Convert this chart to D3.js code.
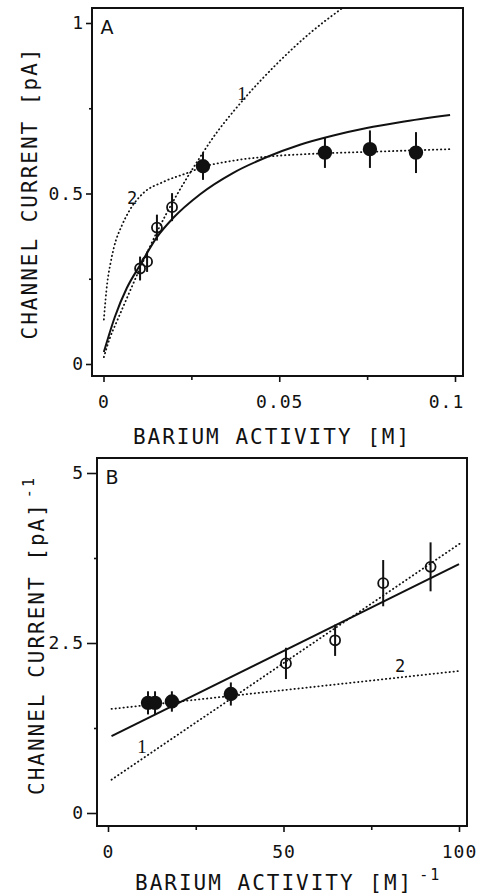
<!DOCTYPE html>
<html>
<head>
<meta charset="utf-8">
<script src="https://cdn.jsdelivr.net/npm/d3@7"></script>
<style>
  body { margin: 0; background: #fff; }
  svg { display: block; }
  .tick text { font-family: "DejaVu Sans Mono", monospace; font-size: 18px; letter-spacing: 1px; fill: #111; }
  .tick line { stroke: #111; stroke-width: 1.6; }
  .title { font-family: "DejaVu Sans Mono", monospace; font-size: 21px; letter-spacing: 2px; fill: #111; }
</style>
</head>
<body>
<div id="chart-area"></div>
<script>
// ---- panel A data: current vs barium activity ----
var aOpenX = [0.0104, 0.0124, 0.0152, 0.0195];
var aOpenY = [0.28, 0.30, 0.40, 0.46];
var aOpenErr = [0.035, 0.03, 0.038, 0.041];
var aFilledX = [0.0283, 0.063, 0.0758, 0.0889];
var aFilledY = [0.58, 0.62, 0.63, 0.62];
var aFilledErr = [0.04, 0.045, 0.055, 0.06];

// curves
var aFitX = [0.0001, 0.0033, 0.0066, 0.0104, 0.0152, 0.0198, 0.0275, 0.0368, 0.0465, 0.0559, 0.0654, 0.0749, 0.0843, 0.0986];
var aFitY = [0.035, 0.14, 0.222, 0.29, 0.372, 0.428, 0.498, 0.56, 0.607, 0.643, 0.67, 0.692, 0.709, 0.73];
var aCurve1X = [0.0001, 0.0018, 0.0038, 0.0056, 0.0104, 0.0152, 0.0203, 0.0237, 0.0275, 0.0303, 0.0397, 0.0493, 0.0587, 0.068];
var aCurve1Y = [0.02, 0.076, 0.125, 0.168, 0.281, 0.387, 0.486, 0.545, 0.607, 0.651, 0.774, 0.88, 0.97, 1.044];
var aCurve2X = [0.0001, 0.001, 0.002, 0.003, 0.0053, 0.0075, 0.0113, 0.017, 0.0246, 0.0275, 0.0368, 0.0465, 0.0607, 0.0749, 0.0986];
var aCurve2Y = [0.13, 0.232, 0.296, 0.343, 0.408, 0.452, 0.501, 0.534, 0.563, 0.575, 0.596, 0.608, 0.617, 0.622, 0.63];

var aXTicks = [0, 0.05, 0.1];
var aXMinor = [0.025, 0.075];
var aYTicks = [0, 0.5, 1];
var aYMinor = [0.25, 0.75];

// ---- panel B data: reciprocal plot ----
var bOpenX = [50.7, 64.7, 78.4, 91.9];
var bOpenY = [2.2, 2.54, 3.38, 3.62];
var bOpenErr = [0.23, 0.23, 0.34, 0.36];
var bFilledX = [11.4, 13.4, 18.2, 35.0];
var bFilledY = [1.62, 1.62, 1.64, 1.75];
var bFilledErr = [0.17, 0.17, 0.15, 0.17];

var bFitX = [1, 100];
var bFitY = [1.13, 3.66];
var bLine1X = [1, 100.5];
var bLine1Y = [0.49, 3.97];
var bLine2X = [1, 100.3];
var bLine2Y = [1.53, 2.09];

var bXTicks = [0, 50, 100];
var bXMinor = [25, 75];
var bYTicks = [0, 2.5, 5];
var bYMinor = [1.25, 3.75];

var svg = d3.select('#chart-area')
    .append("svg")
        .attr("width", 480)
        .attr("height", 894);

function zip(xs, ys) {
    return xs.map((x, i) => ({ x: x, y: ys[i] }));
}

function drawPanel(p) {
    var x = d3.scaleLinear().domain(p.xDomain).range([p.x0, p.x1]);
    var y = d3.scaleLinear().domain(p.yDomain).range([p.y0, p.y1]);
    var g = svg.append("g");

    var clipId = "clip-" + p.letter;
    g.append("clipPath").attr("id", clipId)
        .append("rect")
            .attr("x", p.box.left).attr("y", p.box.top)
            .attr("width", p.box.right - p.box.left)
            .attr("height", p.box.bottom - p.box.top);

    // x axis
    var xAxis = g.append("g")
        .attr("transform", "translate(0," + p.box.bottom + ")")
        .call(d3.axisBottom(x).tickValues(p.xTicks).tickSize(6).tickFormat(p.xFormat));
    xAxis.select(".domain").remove();
    xAxis.selectAll("text")
        .attr("y", 26).attr("dy", "0.35em")
        .attr("dx", (d, i) => i === p.xTicks.length - 1 ? p.lastDx : 0);
    g.append("g")
        .attr("transform", "translate(0," + p.box.bottom + ")")
        .call(d3.axisBottom(x).tickValues(p.xMinor).tickSize(4).tickFormat(""))
        .select(".domain").remove();

    // y axis
    var yAxis = g.append("g")
        .attr("transform", "translate(" + p.box.left + ",0)")
        .call(d3.axisLeft(y).tickValues(p.yTicks).tickSize(p.yTickSize).tickFormat(d => String(d)));
    yAxis.select(".domain").remove();
    yAxis.selectAll("text").attr("x", -(p.box.left - 84));
    g.append("g")
        .attr("transform", "translate(" + p.box.left + ",0)")
        .call(d3.axisLeft(y).tickValues(p.yMinor).tickSize(3).tickFormat(""))
        .select(".domain").remove();

    // frame
    g.append("rect")
        .attr("x", p.box.left).attr("y", p.box.top)
        .attr("width", p.box.right - p.box.left)
        .attr("height", p.box.bottom - p.box.top)
        .attr("fill", "none").attr("stroke", "#111").attr("stroke-width", 2);

    var line = d3.line().x(d => x(d.x)).y(d => y(d.y)).curve(d3.curveMonotoneX);
    var plot = g.append("g").attr("clip-path", "url(#" + clipId + ")");

    p.dotted.forEach(c => {
        plot.append("path")
            .attr("d", line(zip(c[0], c[1])))
            .attr("fill", "none").attr("stroke", "#111")
            .attr("stroke-width", 1.8)
            .attr("stroke-linecap", "round")
            .attr("stroke-dasharray", "0.4,3.6");
    });
    plot.append("path")
        .attr("d", line(zip(p.fit[0], p.fit[1])))
        .attr("fill", "none").attr("stroke", "#111").attr("stroke-width", 2);

    // error bars
    var pts = zip(p.openX, p.openY).map((d, i) => Object.assign(d, { e: p.openErr[i], open: true }))
        .concat(zip(p.filledX, p.filledY).map((d, i) => Object.assign(d, { e: p.filledErr[i], open: false })));
    plot.selectAll("line.err")
        .data(pts).enter()
        .append("line")
            .attr("class", "err")
            .attr("x1", d => x(d.x)).attr("x2", d => x(d.x))
            .attr("y1", d => y(d.y - d.e)).attr("y2", d => y(d.y + d.e))
            .attr("stroke", "#111").attr("stroke-width", 2);
    plot.selectAll("circle")
        .data(pts).enter()
        .append("circle")
            .attr("cx", d => x(d.x)).attr("cy", d => y(d.y))
            .attr("r", d => d.open ? 5 : 6.3)
            .attr("fill", d => d.open ? "none" : "#111")
            .attr("stroke", "#111").attr("stroke-width", 1.8);

    // curve labels
    p.curveLabels.forEach(l => {
        g.append("text")
            .attr("x", l.px).attr("y", l.py)
            .attr("text-anchor", "middle").attr("dy", "0.35em")
            .style("font-family", l.t === "1" ? "'Liberation Serif', serif" : "'DejaVu Sans Mono', monospace")
            .style("font-size", l.t === "1" ? "19px" : "17px").style("fill", "#111")
            .text(l.t);
    });

    // panel letter
    g.append("text")
        .attr("x", p.box.left + 15).attr("y", p.box.top + 19)
        .attr("text-anchor", "middle").attr("dy", "0.35em")
        .style("font-family", "'DejaVu Sans', sans-serif")
        .style("font-size", "19px").style("fill", "#111")
        .text(p.letter);

    return { x: x, y: y, g: g };
}

drawPanel({
    letter: "A",
    box: { left: 92, top: 8, right: 463, bottom: 376 },
    xDomain: [0, 0.1], x0: 103.5, x1: 455,
    yDomain: [0, 1], y0: 364, y1: 23,
    xTicks: aXTicks, xMinor: aXMinor, yTicks: aYTicks, yMinor: aYMinor,
    xFormat: d => String(d), lastDx: -9, yTickSize: 6,
    openX: aOpenX, openY: aOpenY, openErr: aOpenErr,
    filledX: aFilledX, filledY: aFilledY, filledErr: aFilledErr,
    fit: [aFitX, aFitY],
    dotted: [[aCurve1X, aCurve1Y], [aCurve2X, aCurve2Y]],
    curveLabels: [{ t: "1", px: 242, py: 93 }, { t: "2", px: 132, py: 198 }]
});

drawPanel({
    letter: "B",
    box: { left: 97, top: 458, right: 467, bottom: 826 },
    xDomain: [0, 100], x0: 108, x1: 459,
    yDomain: [0, 5], y0: 813, y1: 473,
    xTicks: bXTicks, xMinor: bXMinor, yTicks: bYTicks, yMinor: bYMinor,
    xFormat: d => String(d), lastDx: 0, yTickSize: 10,
    openX: bOpenX, openY: bOpenY, openErr: bOpenErr,
    filledX: bFilledX, filledY: bFilledY, filledErr: bFilledErr,
    fit: [bFitX, bFitY],
    dotted: [[bLine1X, bLine1Y], [bLine2X, bLine2Y]],
    curveLabels: [{ t: "1", px: 142, py: 746 }, { t: "2", px: 400, py: 666 }]
});

// axis titles
svg.append("text").attr("class", "title")
    .attr("x", 272).attr("y", 437).attr("dy", "0.35em")
    .attr("text-anchor", "middle")
    .text("BARIUM ACTIVITY [M]");

svg.append("text").attr("class", "title")
    .attr("transform", "translate(30,193) rotate(-90)")
    .attr("dy", "0.35em").attr("text-anchor", "middle")
    .text("CHANNEL CURRENT [pA]");

var xb = svg.append("text").attr("class", "title")
    .attr("x", 135).attr("y", 883).attr("dy", "0.35em");
xb.append("tspan").text("BARIUM ACTIVITY [M]");
xb.append("tspan").attr("dx", 6).attr("dy", "-0.7em").style("font-size", "15px").text("-1");

var yb = svg.append("text").attr("class", "title")
    .attr("transform", "translate(37,795) rotate(-90)")
    .attr("dy", "0.35em");
yb.append("tspan").text("CHANNEL CURRENT [pA]");
yb.append("tspan").attr("dx", 4).attr("dy", "-0.7em").style("font-size", "15px").text("-1");
</script>
</body>
</html>
